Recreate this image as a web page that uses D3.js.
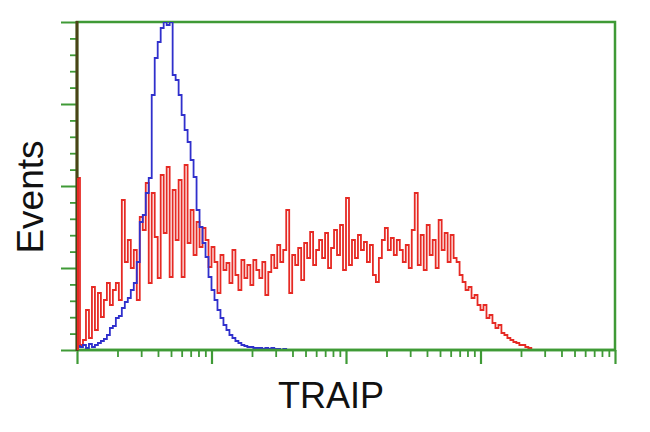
<!DOCTYPE html>
<html>
<head>
<meta charset="utf-8">
<script src="https://cdn.jsdelivr.net/npm/d3@7"></script>
<style>
  html, body { margin: 0; padding: 0; background: #fff; }
  svg { display: block; }
</style>
</head>
<body>
<svg id="chart" width="650" height="432"></svg>
<script>
// ---- data (events per channel) ----
const xLabel = "TRAIP";
const yLabel = "Events";
const channelCount = 180;           // channels across 4 log decades
const xMajorTicks = [1, 10, 100, 1000, 10000];
const yMajorTicks = [0, 82, 164, 246, 328];

const redCounts = [
  172, 5, 10, 40, 12, 63, 20, 57, 33, 50,
  67, 45, 60, 67, 50, 150, 88, 110, 82, 100,
  50, 133, 120, 167, 67, 157, 113, 72, 175, 117,
  183, 73, 160, 110, 170, 73, 185, 107, 140, 95,
  128, 103, 122, 110, 83, 103, 88, 57, 95, 80,
  87, 67, 100, 75, 60, 90, 72, 85, 65, 90,
  80, 72, 88, 55, 78, 95, 82, 105, 88, 100,
  140, 57, 95, 85, 102, 70, 107, 92, 118, 85,
  100, 110, 92, 117, 82, 102, 120, 95, 125, 80,
  152, 85, 110, 92, 115, 100, 108, 88, 105, 75,
  68, 92, 110, 122, 100, 112, 95, 110, 100, 88,
  105, 82, 120, 157, 85, 115, 80, 125, 95, 110,
  82, 130, 100, 117, 88, 115, 92, 88, 75, 68,
  60, 63, 52, 55, 45, 40, 45, 32, 35, 27,
  22, 25, 17, 15, 12, 10, 8, 7, 5, 5,
  3, 2, 0
];

const blueCounts = [
  4, 3, 5, 2, 6, 3, 5, 7, 9, 11,
  15, 22, 24, 32, 34, 42, 48, 52, 60, 67,
  88, 128, 135, 157, 172, 255, 292, 308, 322, 328,
  325, 328, 275, 270, 255, 235, 220, 208, 190, 173,
  140, 123, 107, 93, 73, 60, 50, 40, 32, 25,
  20, 15, 12, 9, 7, 5, 4, 3, 3, 2,
  2, 2, 1, 2, 1, 2, 1, 1, 0, 1,
  0
];

// ---- layout ----
const svg = d3.select("#chart");
const L = 77, R = 615, T = 22, B = 350;
const green = "#3f9a36";

const x = d3.scaleLog().domain([1, 10000]).range([L, R]);
const y = d3.scaleLinear().domain([0, 328]).range([B, T]);

const edge = i => Math.pow(10, 4 * i / channelCount);

svg.append("defs").append("clipPath").attr("id", "plotclip")
  .append("rect").attr("x", L).attr("y", T).attr("width", R - L).attr("height", B - T);

// frame
svg.append("rect").attr("x", L).attr("y", T).attr("width", R - L).attr("height", B - T)
  .attr("fill", "#fff").attr("stroke", green).attr("stroke-width", 2.5);

// histograms
function stepPoints(arr) {
  const pts = arr.map((v, i) => [edge(i), v]);
  pts.push([edge(arr.length), arr[arr.length - 1]]);
  return pts;
}
const line = d3.line().x(d => x(d[0])).y(d => y(d[1])).curve(d3.curveStepAfter);

const g = svg.append("g").attr("clip-path", "url(#plotclip)");
g.append("path").datum(stepPoints(redCounts)).attr("d", line)
  .attr("fill", "none").attr("stroke", "#e62a24").attr("stroke-width", 1.8)
  .attr("stroke-linejoin", "miter");
g.append("path").datum(stepPoints(blueCounts)).attr("d", line)
  .attr("fill", "none").attr("stroke", "#3030cc").attr("stroke-width", 1.8);

// x axis ticks
const xMinor = [];
for (let k = 0; k < 4; k++) for (let m = 2; m <= 9; m++) xMinor.push(m * Math.pow(10, k));

function styleAxis(sel, w) {
  sel.select(".domain").remove();
  sel.selectAll(".tick line").attr("stroke", green).attr("stroke-width", w);
  sel.selectAll(".tick text").remove();
}
svg.append("g").attr("transform", `translate(0,${B})`)
  .call(d3.axisBottom(x).tickValues(xMinor).tickSize(7).tickFormat(""))
  .call(s => styleAxis(s, 1.8));
svg.append("g").attr("transform", `translate(0,${B})`)
  .call(d3.axisBottom(x).tickValues(xMajorTicks).tickSize(14).tickFormat(""))
  .call(s => styleAxis(s, 2.2));

// y axis ticks
const yMinor = [];
for (let i = 0; i < 20; i++) if (i % 5 !== 0) yMinor.push(i * 16.4);
svg.append("g").attr("transform", `translate(${L - 1},0)`)
  .call(d3.axisLeft(y).tickValues(yMinor).tickSize(6).tickFormat(""))
  .call(s => styleAxis(s, 1.8));
svg.append("g").attr("transform", `translate(${L - 1},0)`)
  .call(d3.axisLeft(y).tickValues(yMajorTicks).tickSize(15).tickFormat(""))
  .call(s => styleAxis(s, 2));

// bottom axis line and left axis line
svg.append("line").attr("x1", L).attr("x2", R).attr("y1", B).attr("y2", B)
  .attr("stroke", green).attr("stroke-width", 2.5);
svg.append("line").attr("x1", L).attr("x2", L).attr("y1", T - 1).attr("y2", B + 1)
  .attr("stroke", "#4a4416").attr("stroke-width", 3);
// red first channel overlaps the left axis
svg.append("line").attr("x1", L + 1).attr("x2", L + 1).attr("y1", y(redCounts[0])).attr("y2", B)
  .attr("stroke", "#e62a24").attr("stroke-width", 2);

// labels
svg.append("text").attr("x", (L + R) / 2 - 15).attr("y", 408)
  .attr("text-anchor", "middle")
  .attr("font-family", "Liberation Sans, Arial, sans-serif")
  .attr("font-size", 36).attr("fill", "#111").text(xLabel);
svg.append("text")
  .attr("transform", "translate(43,197) rotate(-90)")
  .attr("text-anchor", "middle")
  .attr("font-family", "Liberation Sans, Arial, sans-serif")
  .attr("font-size", 37).attr("fill", "#111").text(yLabel);
</script>
</body>
</html>
